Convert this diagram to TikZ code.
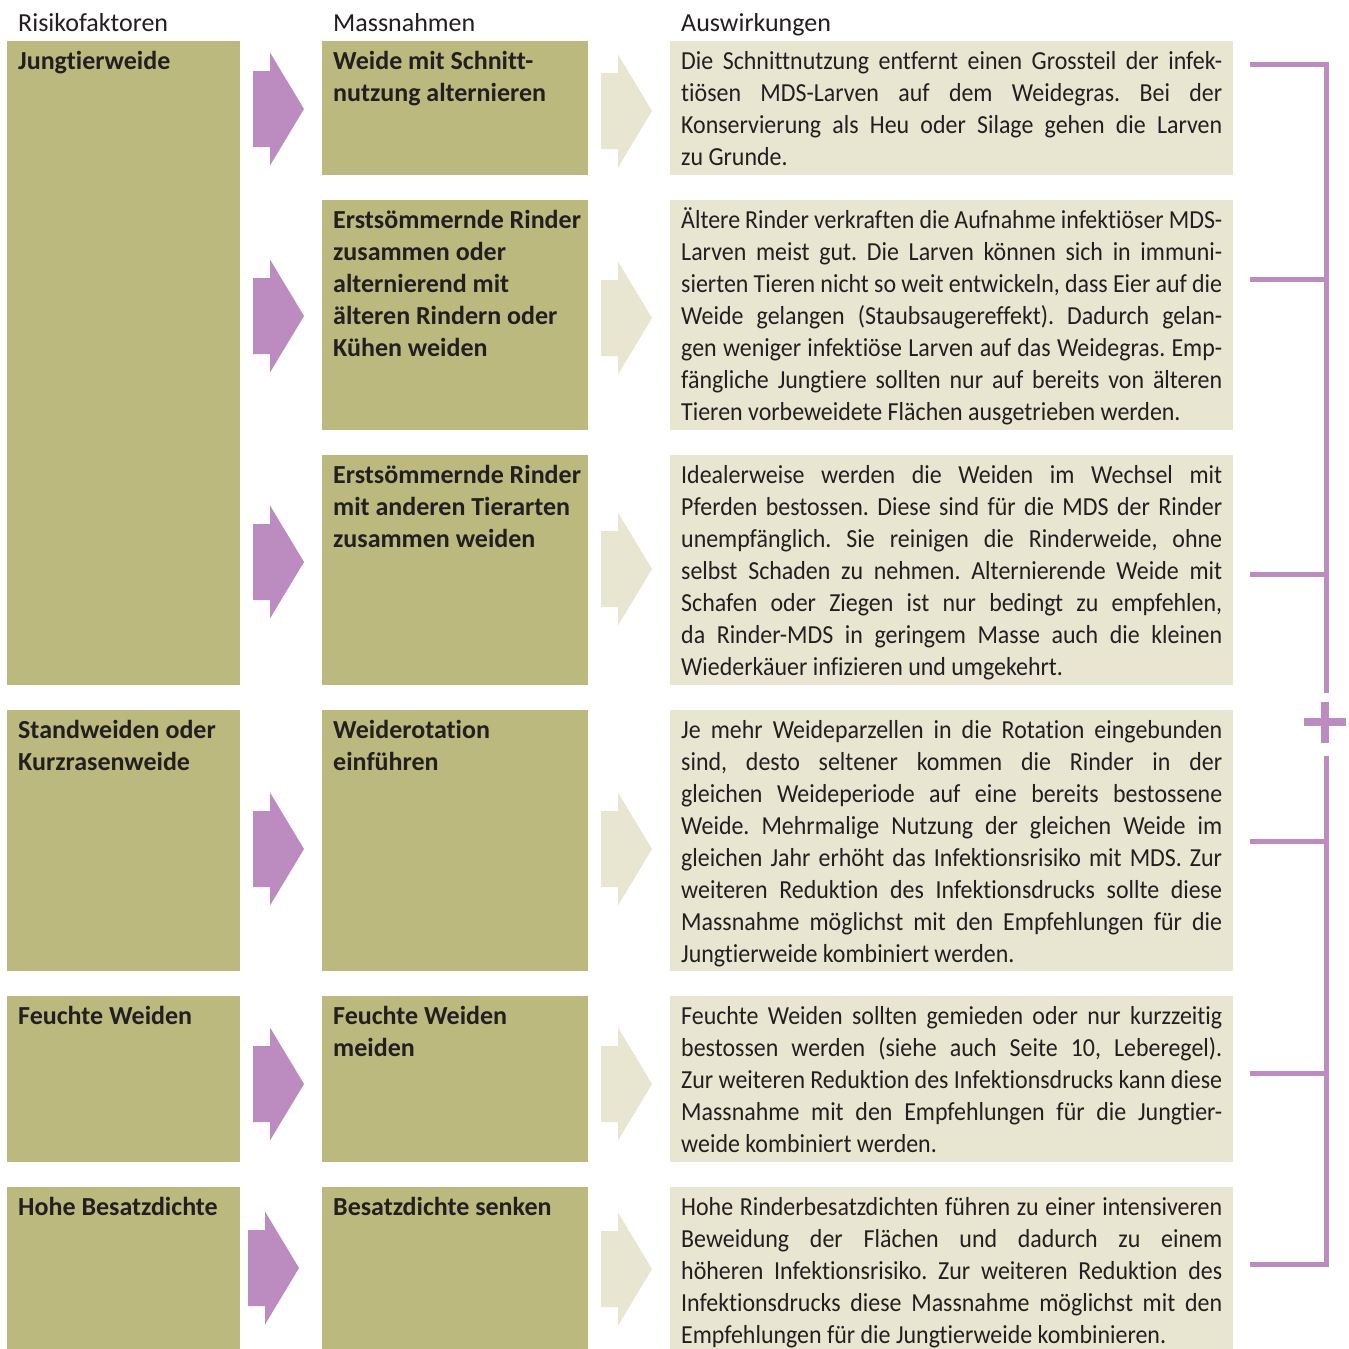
\documentclass[tikz,border=0pt]{standalone}
\usepackage{fontspec}
\setmainfont{Carlito}[Ligatures=NoCommon]
\newfontfamily\bodyfont{Carlito}[Ligatures=NoCommon, FakeStretch=0.92]
\definecolor{olive}{RGB}{187,185,126}
\definecolor{beige}{RGB}{232,229,208}
\definecolor{purp}{RGB}{188,139,191}
\definecolor{ink}{RGB}{35,31,32}
\newcommand\justln[1]{\hbox to 541pt{#1}}
\newcommand\lastln[1]{\hbox{#1}}
\newcommand\txtblock[1]{\vtop{\baselineskip=32pt\lineskiplimit=-10pt #1}}
\tikzset{
  obox/.style={fill=olive, draw=none, inner sep=0, outer sep=0, anchor=north west},
  bbox/.style={fill=beige, draw=none, inner sep=0, outer sep=0, anchor=north west},
  hd/.style={anchor=base west, inner sep=0, text=ink, font=\fontsize{26}{32}\selectfont},
  bd/.style={anchor=base west, inner sep=0, text=ink, font=\fontsize{26}{32}\selectfont\bfseries},
  body/.style={anchor=base west, inner sep=0, text=ink, font=\bodyfont\fontsize{26}{32}\selectfont\frenchspacing},
  brk/.style={draw=purp, line width=5pt, line cap=butt, line join=miter},
  fatarrow/.pic={\path[pic actions] (0,-38) -- (17,-38) -- (17,-56.5) -- (51,0) -- (17,56.5) -- (17,38) -- (0,38) -- cycle;}
}
\begin{document}
\begin{tikzpicture}[x=1pt,y=-1pt]
\useasboundingbox (0,0) rectangle (1349,1349);
\fill[white] (0,0) rectangle (1349,1349);
% headers
\node[hd] (h1) at (18,31) {Risikofaktoren};
\node[hd] (h2) at (333,31) {Massnahmen};
\node[hd] (h3) at (681,31) {Auswirkungen};
% left column
\node[obox, minimum width=233, minimum height=644] (l1) at (7,41) {};
\node[obox, minimum width=233, minimum height=261] (l2) at (7,710) {};
\node[obox, minimum width=233, minimum height=166] (l3) at (7,996) {};
\node[obox, minimum width=233, minimum height=162] (l4) at (7,1187) {};
\node[bd] (lt1) at (18,69) {Jungtierweide};
\node[bd] (lt2) at (18,738) {\txtblock{\lastln{Standweiden oder}\lastln{Kurzrasenweide}}};
\node[bd] (lt3) at (18,1024) {Feuchte Weiden};
\node[bd] (lt4) at (18,1215) {Hohe Besatzdichte};
% middle column
\node[obox, minimum width=266, minimum height=134] (m1) at (322,41) {};
\node[obox, minimum width=266, minimum height=230] (m2) at (322,200) {};
\node[obox, minimum width=266, minimum height=230] (m3) at (322,455) {};
\node[obox, minimum width=266, minimum height=261] (m4) at (322,710) {};
\node[obox, minimum width=266, minimum height=166] (m5) at (322,996) {};
\node[obox, minimum width=266, minimum height=162] (m6) at (322,1187) {};
\node[bd] (mt1) at (333,69) {\txtblock{\lastln{Weide mit Schnitt-}\lastln{nutzung alternieren}}};
\node[bd] (mt2) at (333,228) {\txtblock{\lastln{Erstsömmernde Rinder}\lastln{zusammen oder}\lastln{alternierend mit}\lastln{älteren Rindern oder}\lastln{Kühen weiden}}};
\node[bd] (mt3) at (333,483) {\txtblock{\lastln{Erstsömmernde Rinder}\lastln{mit anderen Tierarten}\lastln{zusammen weiden}}};
\node[bd] (mt4) at (333,738) {\txtblock{\lastln{Weiderotation}\lastln{einführen}}};
\node[bd] (mt5) at (333,1024) {\txtblock{\lastln{Feuchte Weiden}\lastln{meiden}}};
\node[bd] (mt6) at (333,1215) {Besatzdichte senken};
% right column
\node[bbox, minimum width=563, minimum height=134] (r1) at (670,41) {};
\node[bbox, minimum width=563, minimum height=230] (r2) at (670,200) {};
\node[bbox, minimum width=563, minimum height=230] (r3) at (670,455) {};
\node[bbox, minimum width=563, minimum height=261] (r4) at (670,710) {};
\node[bbox, minimum width=563, minimum height=166] (r5) at (670,996) {};
\node[bbox, minimum width=563, minimum height=162] (r6) at (670,1187) {};
\node[body] (rt1) at (681,69) {\txtblock{%
\justln{Die Schnittnutzung entfernt einen Grossteil der infek-}%
\justln{tiösen MDS-Larven auf dem Weidegras. Bei der}%
\justln{Konservierung als Heu oder Silage gehen die Larven}%
\lastln{zu Grunde.}}};
\node[body] (rt2) at (681,228) {\txtblock{%
\justln{Ältere Rinder verkraften die Aufnahme infektiöser MDS-}%
\justln{Larven meist gut. Die Larven können sich in immuni-}%
\justln{sierten Tieren nicht so weit entwickeln, dass Eier auf die}%
\justln{Weide gelangen (Staubsaugereffekt). Dadurch gelan-}%
\justln{gen weniger infektiöse Larven auf das Weidegras. Emp-}%
\justln{fängliche Jungtiere sollten nur auf bereits von älteren}%
\lastln{Tieren vorbeweidete Flächen ausgetrieben werden.}}};
\node[body] (rt3) at (681,483) {\txtblock{%
\justln{Idealerweise werden die Weiden im Wechsel mit}%
\justln{Pferden bestossen. Diese sind für die MDS der Rinder}%
\justln{unempfänglich. Sie reinigen die Rinderweide, ohne}%
\justln{selbst Schaden zu nehmen. Alternierende Weide mit}%
\justln{Schafen oder Ziegen ist nur bedingt zu empfehlen,}%
\justln{da Rinder-MDS in geringem Masse auch die kleinen}%
\lastln{Wiederkäuer infizieren und umgekehrt.}}};
\node[body] (rt4) at (681,738) {\txtblock{%
\justln{Je mehr Weideparzellen in die Rotation eingebunden}%
\justln{sind, desto seltener kommen die Rinder in der}%
\justln{gleichen Weideperiode auf eine bereits bestossene}%
\justln{Weide. Mehrmalige Nutzung der gleichen Weide im}%
\justln{gleichen Jahr erhöht das Infektionsrisiko mit MDS. Zur}%
\justln{weiteren Reduktion des Infektionsdrucks sollte diese}%
\justln{Massnahme möglichst mit den Empfehlungen für die}%
\lastln{Jungtierweide kombiniert werden.}}};
\node[body] (rt5) at (681,1024) {\txtblock{%
\justln{Feuchte Weiden sollten gemieden oder nur kurzzeitig}%
\justln{bestossen werden (siehe auch Seite 10, Leberegel).}%
\justln{Zur weiteren Reduktion des Infektionsdrucks kann diese}%
\justln{Massnahme mit den Empfehlungen für die Jungtier-}%
\lastln{weide kombiniert werden.}}};
\node[body] (rt6) at (681,1215) {\txtblock{%
\justln{Hohe Rinderbesatzdichten führen zu einer intensiveren}%
\justln{Beweidung der Flächen und dadurch zu einem}%
\justln{höheren Infektionsrisiko. Zur weiteren Reduktion des}%
\justln{Infektionsdrucks diese Massnahme möglichst mit den}%
\lastln{Empfehlungen für die Jungtierweide kombinieren.}}};
% arrows
\pic[fill=purp] at (253,109) {fatarrow};
\pic[fill=purp] at (253,316) {fatarrow};
\pic[fill=purp] at (253,562) {fatarrow};
\pic[fill=purp] at (253,849) {fatarrow};
\pic[fill=purp] at (253,1084) {fatarrow};
\pic[fill=purp] at (248,1268) {fatarrow};
\pic[fill=beige] at (601,111) {fatarrow};
\pic[fill=beige] at (601,318) {fatarrow};
\pic[fill=beige] at (601,569) {fatarrow};
\pic[fill=beige] at (601,849) {fatarrow};
\pic[fill=beige] at (601,1084) {fatarrow};
\pic[fill=beige] at (601,1269) {fatarrow};
% bracket
\coordinate (b1) at (1250,64);
\coordinate (b2) at (1250,279);
\coordinate (b3) at (1250,574);
\coordinate (b4) at (1250,841);
\coordinate (b5) at (1250,1073);
\coordinate (b6) at (1250,1264);
\coordinate (bt) at (1326,64);
\coordinate (bm1) at (1326,693);
\coordinate (bm2) at (1326,756);
\coordinate (bb) at (1326,1264);
\draw[brk] (b1) -- (bt) -- (bm1);
\draw[brk] (b2) -- (b2 -| bt);
\draw[brk] (b3) -- (b3 -| bt);
\draw[brk] (bm2) -- (bb) -- (b6);
\draw[brk] (b4) -- (b4 -| bt);
\draw[brk] (b5) -- (b5 -| bt);
\coordinate (pl) at (1325,722);
\draw[draw=purp, line width=8pt] ([xshift=-21pt]pl) -- ([xshift=21pt]pl);
\draw[draw=purp, line width=8pt] ([yshift=20.5pt]pl) -- ([yshift=-20.5pt]pl);
\end{tikzpicture}
\end{document}
